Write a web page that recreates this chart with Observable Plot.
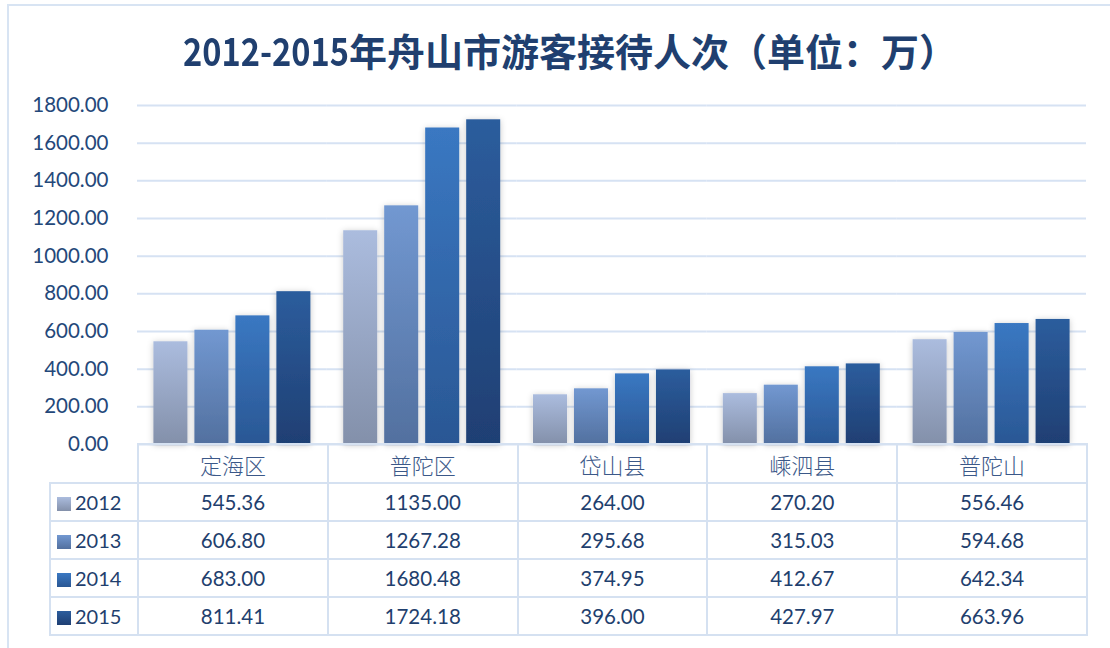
<!DOCTYPE html>
<html><head><meta charset="utf-8">
<script src="https://cdn.jsdelivr.net/npm/d3@7"></script>
<script src="https://cdn.jsdelivr.net/npm/@observablehq/plot@0.6"></script>
<style>
html,body{margin:0;padding:0;background:#fff;overflow:hidden;}
#wrap{position:relative;width:1110px;height:648px;overflow:hidden;}
#frame{position:absolute;left:7px;top:4px;width:1200px;height:800px;border:2px solid #d8e4f3;box-sizing:border-box;}
#title{position:absolute;left:183px;top:21px;white-space:nowrap;font-family:"Noto Sans CJK SC",sans-serif;font-weight:bold;font-size:39px;color:#203f6f;line-height:56px;}
#title .lat{display:inline-block;width:166px;overflow:visible;}
#title .lat span{display:inline-block;transform-origin:0 50%;}
#title .cjk{font-size:38px;}
#chart{position:absolute;left:0;top:0;}
table{position:absolute;left:49px;top:443px;border-collapse:collapse;table-layout:fixed;}
td{border:2px solid #d5e1f1;padding:0;text-align:center;color:#1f3f6e;font-family:Lato,sans-serif;font-size:20.5px;height:36px;line-height:36px;white-space:nowrap;}
td.cat{font-family:"Noto Sans CJK SC";font-weight:300;font-size:22px;color:#3b5888;height:37px;}
td.corner{border-top:hidden;border-left:hidden;}
td.leg{text-align:left;padding-left:6px;font-size:20px;}
.sw{display:inline-block;width:14px;height:14px;margin-right:4px;vertical-align:-1px;}
</style></head>
<body><div id="wrap"><div id="frame"></div>
<div id="title"><span class="lat"><span id="latin">2012-2015</span></span><span class="cjk">年舟山市游客接待人次（单位：万）</span></div>
<div id="chart"></div></div>
<script>
const districts = ["定海区","普陀区","岱山县","嵊泗县","普陀山"];
const years = ["2012","2013","2014","2015"];
const v2012 = [545.36,1135.00,264.00,270.20,556.46];
const v2013 = [606.80,1267.28,295.68,315.03,594.68];
const v2014 = [683.00,1680.48,374.95,412.67,642.34];
const v2015 = [811.41,1724.18,396.00,427.97,663.96];
const series = [v2012,v2013,v2014,v2015];
const yTicks = [0,200,400,600,800,1000,1200,1400,1600,1800];
const gradTop = ["#abbcde","#7298d1","#3a78c2","#2c5d9d"];
const gradBottom = ["#8390aa","#52709f","#2a5794","#1f3f73"];

// squeeze the Latin part of the title to a condensed width
const lat = document.getElementById("latin");
const lw = lat.getBoundingClientRect().width;
if (lw > 0) lat.style.transform = `scaleX(${166/lw})`;

const data = years.flatMap((y,i)=>districts.map((d,j)=>({district:d, year:y, value:series[i][j]})));

const plot = Plot.plot({
  width:1110, height:446, marginLeft:137, marginRight:24, marginTop:105, marginBottom:2,
  style:{fontFamily:"Lato, sans-serif", fontSize:"20.5px", color:"#24487a", background:"transparent", overflow:"visible"},
  fx:{domain:districts, padding:0, axis:null, round:false},
  x:{domain:years, paddingInner:0.17, paddingOuter:0.4, axis:null, round:false},
  y:{domain:[0,1800], axis:null},
  color:{domain:years, range:years.map(y=>`url(#grad${y})`)},
  marks:[
    Plot.gridY(yTicks,{stroke:"#d6e2f3", strokeOpacity:1, strokeWidth:2}),
    Plot.barY(data,{fx:"district", x:"year", y:"value", fill:"year"}),
    Plot.axisY(yTicks,{tickSize:0, tickPadding:29, tickFormat:d=>d.toFixed(2), label:null, fill:"#24487a"})
  ]
});
const svg = d3.select(plot);
const defs = svg.insert("defs",":first-child");
years.forEach((y,i)=>{
  const g = defs.append("linearGradient").attr("id","grad"+y).attr("x1",0).attr("y1",0).attr("x2",0).attr("y2",1);
  g.append("stop").attr("offset","0%").attr("stop-color",gradTop[i]);
  g.append("stop").attr("offset","100%").attr("stop-color",gradBottom[i]);
});
const f = defs.append("filter").attr("id","shadow").attr("x","-30%").attr("y","-10%").attr("width","160%").attr("height","130%");
f.append("feDropShadow").attr("dx",0).attr("dy",1).attr("stdDeviation",3).attr("flood-color","#000").attr("flood-opacity",0.22);
svg.selectAll("g[aria-label='bar'] rect").attr("filter","url(#shadow)");
document.getElementById("chart").appendChild(plot);

// data table
const colW = (1086-137)/districts.length;
const table = d3.select("#wrap").append("table");
const cg = table.append("colgroup");
cg.append("col").attr("style","width:88px");
districts.forEach(()=>cg.append("col").attr("style",`width:${colW}px`));
table.style("width",(88+colW*districts.length)+"px");
const hr = table.append("tr");
hr.append("td").attr("class","corner");
districts.forEach(d=>hr.append("td").attr("class","cat").text(d));
years.forEach((y,i)=>{
  const tr = table.append("tr");
  const lc = tr.append("td").attr("class","leg");
  lc.append("span").attr("class","sw").style("background",`linear-gradient(${gradTop[i]},${gradBottom[i]})`);
  lc.append("span").text(y);
  series[i].forEach(v=>tr.append("td").text(v.toFixed(2)));
});
</script></body></html>
